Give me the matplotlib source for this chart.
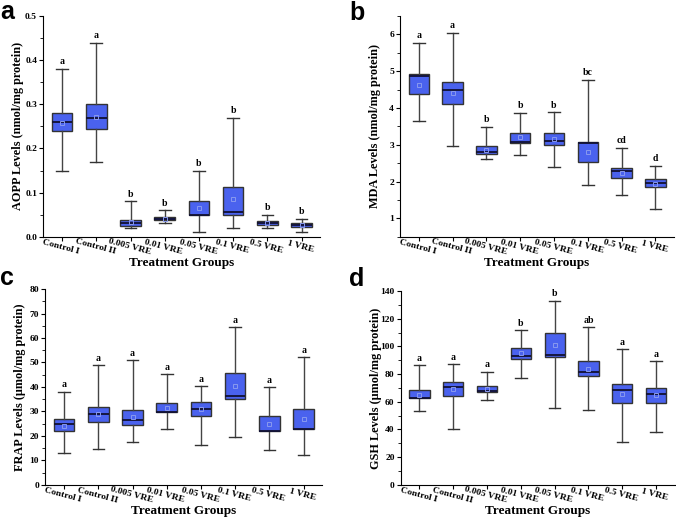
import matplotlib
matplotlib.use("Agg")
import matplotlib.pyplot as plt
from matplotlib.ticker import MultipleLocator

groups = ["Control I", "Control II", "0.005 VRE", "0.01 VRE", "0.05 VRE", "0.1 VRE", "0.5 VRE", "1 VRE"]

# AOPP (panel a): whisker low, Q1, median, Q3, whisker high, mean
aopp_low = [0.15, 0.17, 0.020, 0.030, 0.010, 0.020, 0.020, 0.010]
aopp_q1 = [0.240, 0.245, 0.025, 0.037, 0.050, 0.050, 0.027, 0.022]
aopp_med = [0.260, 0.270, 0.030, 0.040, 0.050, 0.055, 0.031, 0.027]
aopp_q3 = [0.280, 0.300, 0.038, 0.044, 0.082, 0.113, 0.035, 0.030]
aopp_high = [0.38, 0.44, 0.080, 0.060, 0.150, 0.270, 0.050, 0.040]
aopp_mean = [0.258, 0.272, 0.033, 0.041, 0.066, 0.085, 0.031, 0.026]
aopp_sig = ["a", "a", "b", "b", "b", "b", "b", "b"]

# MDA (panel b)
mda_low = [3.65, 2.98, 2.62, 2.73, 2.40, 1.92, 1.64, 1.25]
mda_q1 = [4.37, 4.10, 2.75, 3.05, 2.99, 2.52, 2.10, 1.84]
mda_med = [4.87, 4.50, 2.80, 3.07, 3.10, 3.06, 2.30, 1.97]
mda_q3 = [4.92, 4.72, 2.97, 3.33, 3.31, 3.08, 2.37, 2.08]
mda_high = [5.78, 6.05, 3.48, 3.87, 3.88, 4.77, 2.91, 2.43]
mda_mean = [4.63, 4.42, 2.86, 3.20, 3.15, 2.80, 2.22, 1.94]
mda_sig = ["a", "a", "b", "b", "b", "bc", "cd", "d"]

# FRAP (panel c)
frap_low = [13.0, 14.5, 17.5, 23.0, 16.3, 19.6, 14.2, 12.1]
frap_q1 = [22.0, 25.8, 24.5, 29.7, 28.2, 35.2, 22.1, 22.7]
frap_med = [24.7, 29.0, 26.6, 29.9, 31.0, 36.5, 22.2, 22.9]
frap_q3 = [27.0, 32.0, 30.7, 33.5, 33.9, 45.5, 28.0, 30.9]
frap_high = [38.0, 49.0, 51.0, 45.3, 40.4, 64.4, 40.0, 52.2]
frap_mean = [24.2, 28.8, 27.6, 31.5, 31.0, 40.3, 25.0, 26.9]
frap_sig = ["a", "a", "a", "a", "a", "a", "a", "a"]

# GSH (panel d)
gsh_low = [53.5, 40.5, 61.0, 77.5, 55.2, 54.2, 31.0, 38.5]
gsh_q1 = [62.5, 64.3, 66.8, 91.0, 92.5, 79.0, 59.0, 59.5]
gsh_med = [63.0, 70.7, 67.5, 93.0, 93.5, 81.5, 68.3, 65.5]
gsh_q3 = [68.3, 74.2, 71.3, 98.6, 109.7, 89.7, 72.7, 70.2]
gsh_high = [86.5, 87.0, 81.7, 112.0, 133.0, 114.0, 98.0, 89.3]
gsh_mean = [65.0, 69.2, 69.0, 95.0, 101.0, 84.0, 65.6, 64.8]
gsh_sig = ["a", "a", "a", "b", "b", "ab", "a", "a"]

serif = "Liberation Serif"
box_color = "#4a62ee"
W, H = 676, 518

fig = plt.figure(figsize=(6.76, 5.18), dpi=100)


def draw_panel(rect, low, q1, med, q3, high, mean, sig, ylim, major, minor, ylabel,
               letter, letter_xy, fmt):
    ax = fig.add_axes(rect)
    stats = []
    for i in range(len(groups)):
        stats.append(dict(whislo=low[i], q1=q1[i], med=med[i], q3=q3[i],
                          whishi=high[i], mean=mean[i], label=groups[i]))
    ax.bxp(stats, positions=range(1, len(groups) + 1), widths=0.6,
           showmeans=True, patch_artist=True, showfliers=False,
           boxprops=dict(facecolor=box_color, edgecolor="#333333", linewidth=1.0),
           medianprops=dict(color="#111133", linewidth=1.3),
           whiskerprops=dict(color="#444444", linewidth=1.0),
           capprops=dict(color="#333333", linewidth=1.0),
           meanprops=dict(marker="s", markersize=3, markerfacecolor="none",
                          markeredgecolor="#8899ee", markeredgewidth=0.7),
           capwidths=0.34)
    span = ylim[1] - ylim[0]
    for i in range(len(groups)):
        ax.text(i + 1, high[i] + span * 0.012, sig[i], ha="center", va="bottom",
                fontsize=7, fontweight="bold", family=serif)
    ax.set_xlim(0.45, 8.55)
    ax.set_ylim(*ylim)
    ax.yaxis.set_major_locator(MultipleLocator(major))
    ax.yaxis.set_minor_locator(MultipleLocator(minor))
    ax.yaxis.set_major_formatter(fmt)
    for s in ["top", "right"]:
        ax.spines[s].set_visible(False)
    ax.tick_params(axis="both", direction="out", length=3, width=0.8, pad=1.5)
    ax.tick_params(axis="y", which="minor", direction="out", length=2, width=0.6)
    ax.set_xticks(range(1, len(groups) + 1))
    ax.set_xticklabels(groups, rotation=-15, ha="center", va="top", rotation_mode="anchor",
                       fontsize=6.8, fontweight="bold", family=serif)
    for lab in ax.get_yticklabels():
        lab.set_fontsize(6.8)
        lab.set_fontweight("bold")
        lab.set_family(serif)
    ax.set_ylabel(ylabel, fontsize=8.8, fontweight="bold", family=serif)
    ax.set_xlabel("Treatment Groups", fontsize=9.5, fontweight="bold", family=serif)
    wpx = rect[2] * W
    hpx = rect[3] * H
    ax.yaxis.set_label_coords(-25 / wpx, 0.5)
    ax.xaxis.set_label_coords(0.5, -26 / hpx)
    ax.xaxis.label.set_va("center")
    ax.yaxis.label.set_va("center")
    fig.text(letter_xy[0] / W, 1 - letter_xy[1] / H, letter, fontsize=18,
             fontweight="bold", family="Liberation Sans", va="baseline", ha="left")
    return ax


draw_panel([0.064, 0.543, 0.41, 0.426], aopp_low, aopp_q1, aopp_med, aopp_q3, aopp_high, aopp_mean,
           aopp_sig, (0, 0.5), 0.1, 0.05, "AOPP Levels (nmol/mg protein)", "a", (0, 19), "{x:.1f}")
draw_panel([0.592, 0.543, 0.405, 0.426], mda_low, mda_q1, mda_med, mda_q3, mda_high, mda_mean,
           mda_sig, (0.5, 6.5), 1, 0.5, "MDA Levels (nmol/mg protein)", "b", (349, 20), "{x:.0f}")
draw_panel([0.067, 0.064, 0.41, 0.378], frap_low, frap_q1, frap_med, frap_q3, frap_high, frap_mean,
           frap_sig, (0, 80), 10, 5, "FRAP Levels (\u00b5mol/mg protein)", "c", (0, 285), "{x:.0f}")
draw_panel([0.593, 0.064, 0.405, 0.374], gsh_low, gsh_q1, gsh_med, gsh_q3, gsh_high, gsh_mean,
           gsh_sig, (0, 140), 20, 10, "GSH Levels (\u00b5mol/mg protein)", "d", (349, 286), "{x:.0f}")

fig.savefig("out.png", dpi=100)
